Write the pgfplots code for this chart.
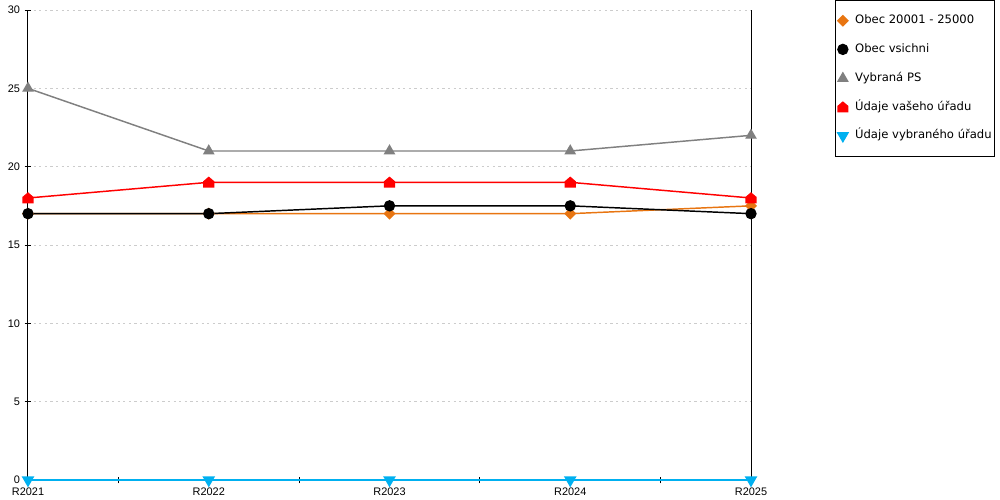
\documentclass[border=0pt]{standalone}
\usepackage{pgfplots}
\pgfplotsset{compat=1.18}
\usepackage{fontspec}
\setmainfont{DejaVu Sans}
\newfontfamily\tickfont{Liberation Sans}
\definecolor{cOr}{HTML}{E87511}
\definecolor{cGr}{HTML}{808080}
\definecolor{cRe}{HTML}{FF0000}
\definecolor{cCy}{HTML}{00B0F0}
\pgfdeclareplotmark{house}{%
  \pgfpathmoveto{\pgfqpoint{0pt}{\pgfplotmarksize}}%
  \pgfpathlineto{\pgfqpoint{\pgfplotmarksize}{0.15\pgfplotmarksize}}%
  \pgfpathlineto{\pgfqpoint{\pgfplotmarksize}{-0.95\pgfplotmarksize}}%
  \pgfpathlineto{\pgfqpoint{-\pgfplotmarksize}{-0.95\pgfplotmarksize}}%
  \pgfpathlineto{\pgfqpoint{-\pgfplotmarksize}{0.15\pgfplotmarksize}}%
  \pgfpathclose\pgfusepathqfillstroke}
\begin{document}
\begin{tikzpicture}
\useasboundingbox (0,0) rectangle (750pt,375pt);
\begin{axis}[
  at={(21pt,15pt)}, anchor=south west,
  scale only axis, width=542.25pt, height=352.5pt,
  xmin=0, xmax=4, ymin=0, ymax=30,
  clip=false,
  axis lines=left, axis line style={-, black, line width=0.75pt},
  xtick={0,1,2,3,4},
  xticklabels={R2021,R2022,R2023,R2024,R2025},
  minor xtick={0.5,1.5,2.5,3.5},
  ytick={0,5,10,15,20,25,30},
  tick align=center,
  major tick length=5pt, minor tick length=5pt,
  tick style={black, line width=0.6pt},
  ymajorgrids, major grid style={gray!40, line width=0.6pt, dash pattern=on 1.6pt off 2.6pt},
  ticklabel style={font=\tickfont\fontsize{8.2}{10}\selectfont},
  /pgf/number format/assume math mode=true,
  legend cell align=left,
  legend image code/.code={\draw[#1] plot coordinates {(0pt,0pt)};},
  legend style={at={(1.116,1.0213)}, anchor=north west, draw=black, line width=0.6pt,
    font=\fontsize{8.7}{10}\selectfont, inner xsep=2pt, inner ysep=11.5pt,
    row sep=14pt, column sep=5.5pt,
    nodes={inner sep=0pt, text height=6pt, text depth=1.5pt}},
]
\addplot[cOr, line width=1.1pt, mark=square*, mark size=2.6pt, mark options={rotate=45}] coordinates {(0,17) (1,17) (2,17) (3,17) (4,17.5)};
\addlegendentry{Obec 20001 - 25000}
\addplot[black, line width=1.1pt, mark=*, mark size=3.7pt] coordinates {(0,17) (1,17) (2,17.5) (3,17.5) (4,17)};
\addlegendentry{Obec vsichni}
\addplot[cGr, line width=1.1pt, mark=triangle*, mark size=4pt] coordinates {(0,25) (1,21) (2,21) (3,21) (4,22)};
\addlegendentry{Vybraná PS}
\addplot[cRe, line width=1.1pt, mark=house, mark size=3.6pt] coordinates {(0,18) (1,19) (2,19) (3,19) (4,18)};
\addlegendentry{Údaje vašeho úřadu}
\addplot[cCy, line width=1.5pt, mark=triangle*, mark size=4pt, mark options={rotate=180}] coordinates {(0,0) (1,0) (2,0) (3,0) (4,0)};
\addlegendentry{Údaje vybraného úřadu}
\draw[black, line width=0.75pt] (rel axis cs:1,0) -- (rel axis cs:1,1);
\end{axis}
\end{tikzpicture}
\end{document}
